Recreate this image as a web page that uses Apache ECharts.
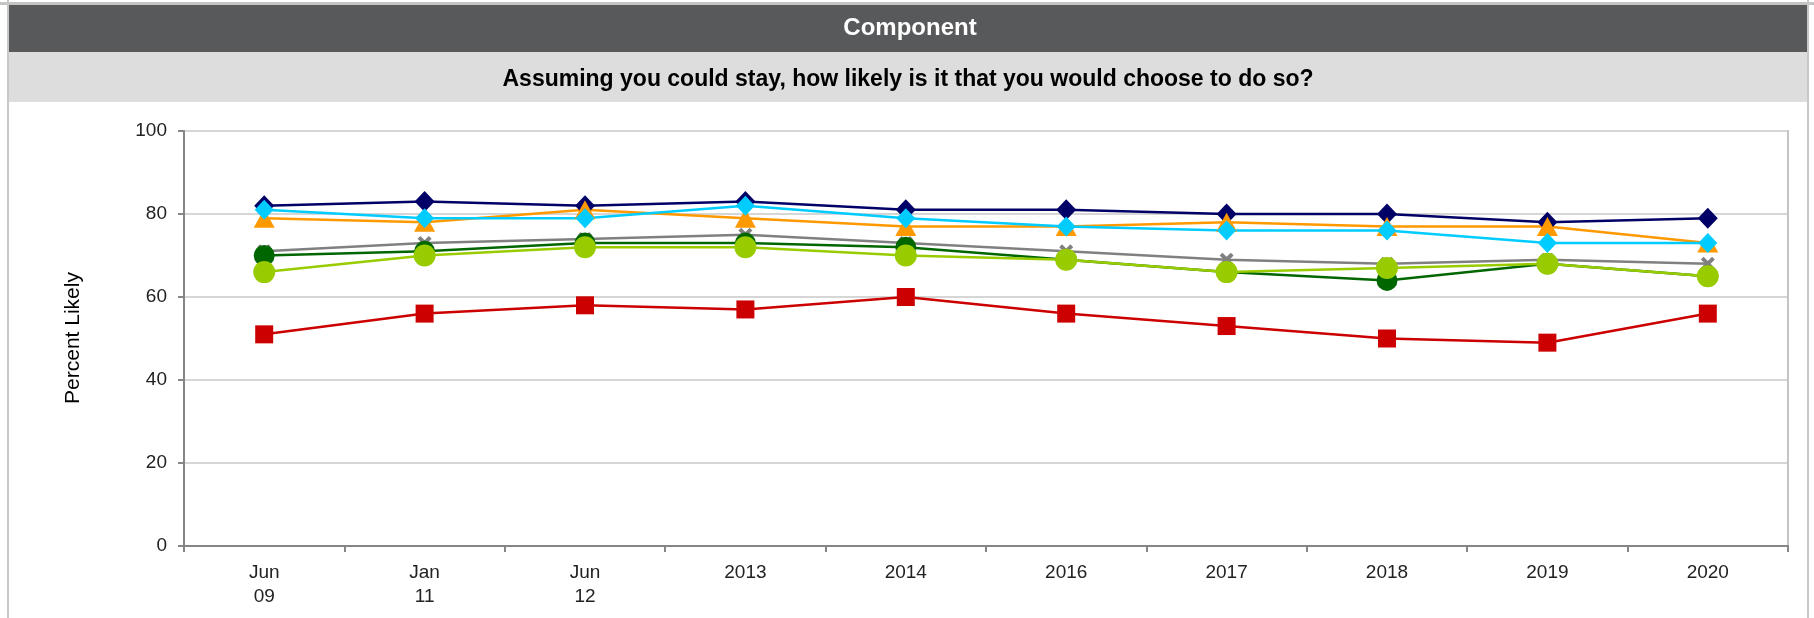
<!DOCTYPE html>
<html>
<head>
<meta charset="utf-8">
<script src="https://cdn.jsdelivr.net/npm/echarts@6/dist/echarts.min.js"></script>
<style>
html,body{margin:0;padding:0;background:#fff;}
#c{width:1814px;height:618px;}
</style>
</head>
<body>
<div id="c"></div>
<script>
var categories = ['Jun\n09','Jan\n11','Jun\n12','2013','2014','2016','2017','2018','2019','2020'];
var yTicks = [0,20,40,60,80,100];
var navySeries   = [82,83,82,83,81,81,80,80,78,79];
var redSeries    = [51,56,58,57,60,56,53,50,49,56];
var graySeries   = [71,73,74,75,73,71,69,68,69,68];
var orangeSeries = [79,78,81,79,77,77,78,77,77,73];
var dkGreenSeries= [70,71,73,73,72,69,66,64,68,65];
var ltGreenSeries= [66,70,72,72,70,69,66,67,68,65];
var cyanSeries   = [81,79,79,82,79,77,76,76,73,73];

var FONT = "'Liberation Sans', Arial, sans-serif";
var xPath = 'path://M0,2 L2,0 L5,3 L8,0 L10,2 L7,5 L10,8 L8,10 L5,7 L2,10 L0,8 L3,5 Z';

function mk(name, data, color, symbol, size) {
  return {
    name: name, type: 'line', data: data,
    symbol: symbol, symbolSize: size,
    lineStyle: {color: color, width: 2.5},
    itemStyle: {color: color},
    emphasis: {disabled: true},
    animation: false
  };
}

var chart = echarts.init(document.getElementById('c'), null, {renderer: 'canvas'});
chart.setOption({
  backgroundColor: '#ffffff',
  animation: false,
  textStyle: {fontFamily: FONT},
  graphic: [
    {type: 'rect', shape: {x: 0, y: 2, width: 1814, height: 3}, style: {fill: '#c4c4c4'}, silent: true},
    {type: 'rect', shape: {x: 8, y: 5, width: 1800, height: 47}, style: {fill: '#58595b'}, silent: true},
    {type: 'rect', shape: {x: 8, y: 52, width: 1800, height: 50}, style: {fill: '#dddddd'}, silent: true},
    {type: 'rect', shape: {x: 7, y: 0, width: 2, height: 618}, style: {fill: '#c8c8c8'}, silent: true},
    {type: 'rect', shape: {x: 1807, y: 0, width: 2, height: 618}, style: {fill: '#c8c8c8'}, silent: true},
    {type: 'text', x: 910, y: 28, style: {text: 'Component', fill: '#ffffff', font: 'bold 24px ' + FONT, textAlign: 'center', textVerticalAlign: 'middle'}, silent: true},
    {type: 'text', x: 908, y: 80, style: {text: 'Assuming you could stay, how likely is it that you would choose to do so?', fill: '#000000', font: 'bold 23px ' + FONT, textAlign: 'center', textVerticalAlign: 'middle'}, silent: true},
    {type: 'text', x: 73, y: 338, rotation: Math.PI / 2, style: {text: 'Percent Likely', fill: '#000000', font: '21px ' + FONT, textAlign: 'center', textVerticalAlign: 'middle'}, silent: true}
  ],
  grid: {left: 184, right: 26, top: 131, bottom: 72, containLabel: false},
  xAxis: {
    type: 'category', data: categories, boundaryGap: true,
    axisLine: {lineStyle: {color: '#868686', width: 2}},
    axisTick: {show: true, length: 6, alignWithLabel: false, lineStyle: {color: '#868686', width: 2}},
    axisLabel: {color: '#222222', fontSize: 19, lineHeight: 24, margin: 15, fontFamily: FONT, interval: 0},
    splitLine: {show: false}
  },
  yAxis: [{
    type: 'value', min: yTicks[0], max: yTicks[yTicks.length - 1], interval: 20,
    axisLine: {show: true, lineStyle: {color: '#868686', width: 2}},
    axisTick: {show: true, length: 6, lineStyle: {color: '#868686', width: 2}},
    axisLabel: {color: '#222222', fontSize: 19, margin: 17, fontFamily: FONT},
    splitLine: {show: true, lineStyle: {color: '#c8c8c8', width: 1.5}}
  }, {
    type: 'value', position: 'right', min: yTicks[0], max: yTicks[yTicks.length - 1], interval: 20,
    axisLine: {show: true, lineStyle: {color: '#c4c4c4', width: 2}},
    axisTick: {show: false}, axisLabel: {show: false}, splitLine: {show: false}
  }],
  series: [
    mk('Navy', navySeries, '#000066', 'diamond', [20, 21]),
    mk('Red', redSeries, '#cc0000', 'rect', 18),
    mk('Gray', graySeries, '#808080', xPath, 14),
    mk('Orange', orangeSeries, '#ff9900', 'triangle', [21, 19]),
    mk('Dark green', dkGreenSeries, '#006600', 'circle', 21),
    mk('Light green', ltGreenSeries, '#99cc00', 'circle', 22),
    mk('Cyan', cyanSeries, '#00ccff', 'diamond', [19, 20])
  ]
});
</script>
</body>
</html>
